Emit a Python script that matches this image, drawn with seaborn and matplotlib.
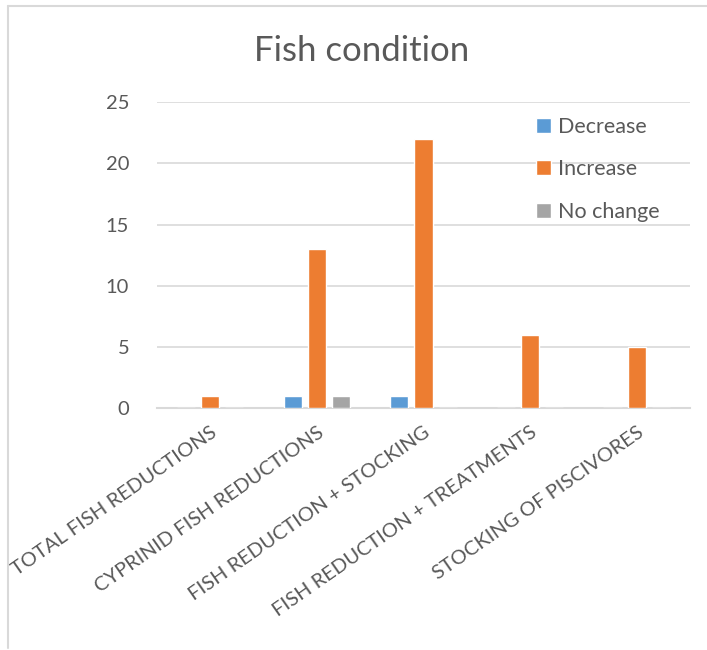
import pandas as pd
import matplotlib
matplotlib.use('Agg')
import matplotlib.pyplot as plt
from matplotlib.lines import Line2D
import seaborn as sns

# Data
categories = ['TOTAL FISH REDUCTIONS', 'CYPRINID FISH REDUCTIONS', 'FISH REDUCTION + STOCKING',
              'FISH REDUCTION + TREATMENTS', 'STOCKING OF PISCIVORES']
series = ['Decrease', 'Increase', 'No change']
decrease = [0, 1, 1, 0, 0]
increase = [1, 13, 22, 6, 5]
no_change = [0, 1, 0, 0, 0]
y_ticks = [0, 5, 10, 15, 20, 25]

colors = ['#5B9BD5', '#ED7D31', '#A5A5A5']
text_color = '#595959'
grid_color = '#D9D9D9'

df = pd.DataFrame({'Category': categories * 3,
                   'Condition': [s for s in series for _ in categories],
                   'Count': decrease + increase + no_change})

sns.set_style('white')
plt.rcParams['font.family'] = ['Lato', 'DejaVu Sans']

fig = plt.figure(figsize=(7.07, 6.5), dpi=100)
ax = fig.add_axes([0.222, 0.372, 0.754, 0.471])

sns.barplot(data=df, x='Category', y='Count', hue='Condition', hue_order=series,
            palette=colors, width=0.68, gap=0.25, saturation=1, ax=ax, zorder=3)

ax.set_ylim(0, 25)
ax.set_yticks(y_ticks)
ax.set_xlim(-0.5, 4.5)
ax.yaxis.grid(True, color=grid_color, linewidth=1.2, zorder=0)
ax.set_axisbelow(True)
for side in ['left', 'right', 'top']:
    ax.spines[side].set_visible(False)
ax.spines['bottom'].set_color(grid_color)
ax.spines['bottom'].set_linewidth(1.5)
ax.tick_params(axis='both', length=0, colors=text_color, labelsize=14.5)
ax.tick_params(axis='y', pad=20)
ax.set_xlabel('')
ax.set_ylabel('')
plt.setp(ax.get_xticklabels(), rotation=35, ha='right', rotation_mode='anchor', fontsize=14.5)
for lbl in ax.get_xticklabels():
    lbl.set_y(-0.035)

leg = ax.legend(loc='upper left', bbox_to_anchor=(0.675, 1.015), frameon=False, fontsize=15.5,
                labelspacing=1.05, handlelength=0.7, handleheight=0.7, handletextpad=0.3,
                labelcolor=text_color)

fig.text(0.512, 0.922, 'Fish condition', ha='center', va='center', fontsize=25, color=text_color)

# light chart-area border
fig.add_artist(Line2D([8 / 707, 1], [1 - 5.5 / 650] * 2, color=grid_color, linewidth=1.5))
fig.add_artist(Line2D([8 / 707] * 2, [1 - 5.5 / 650, 1 - 648 / 650], color=grid_color, linewidth=1.5))

fig.savefig('out.png', dpi=100)
